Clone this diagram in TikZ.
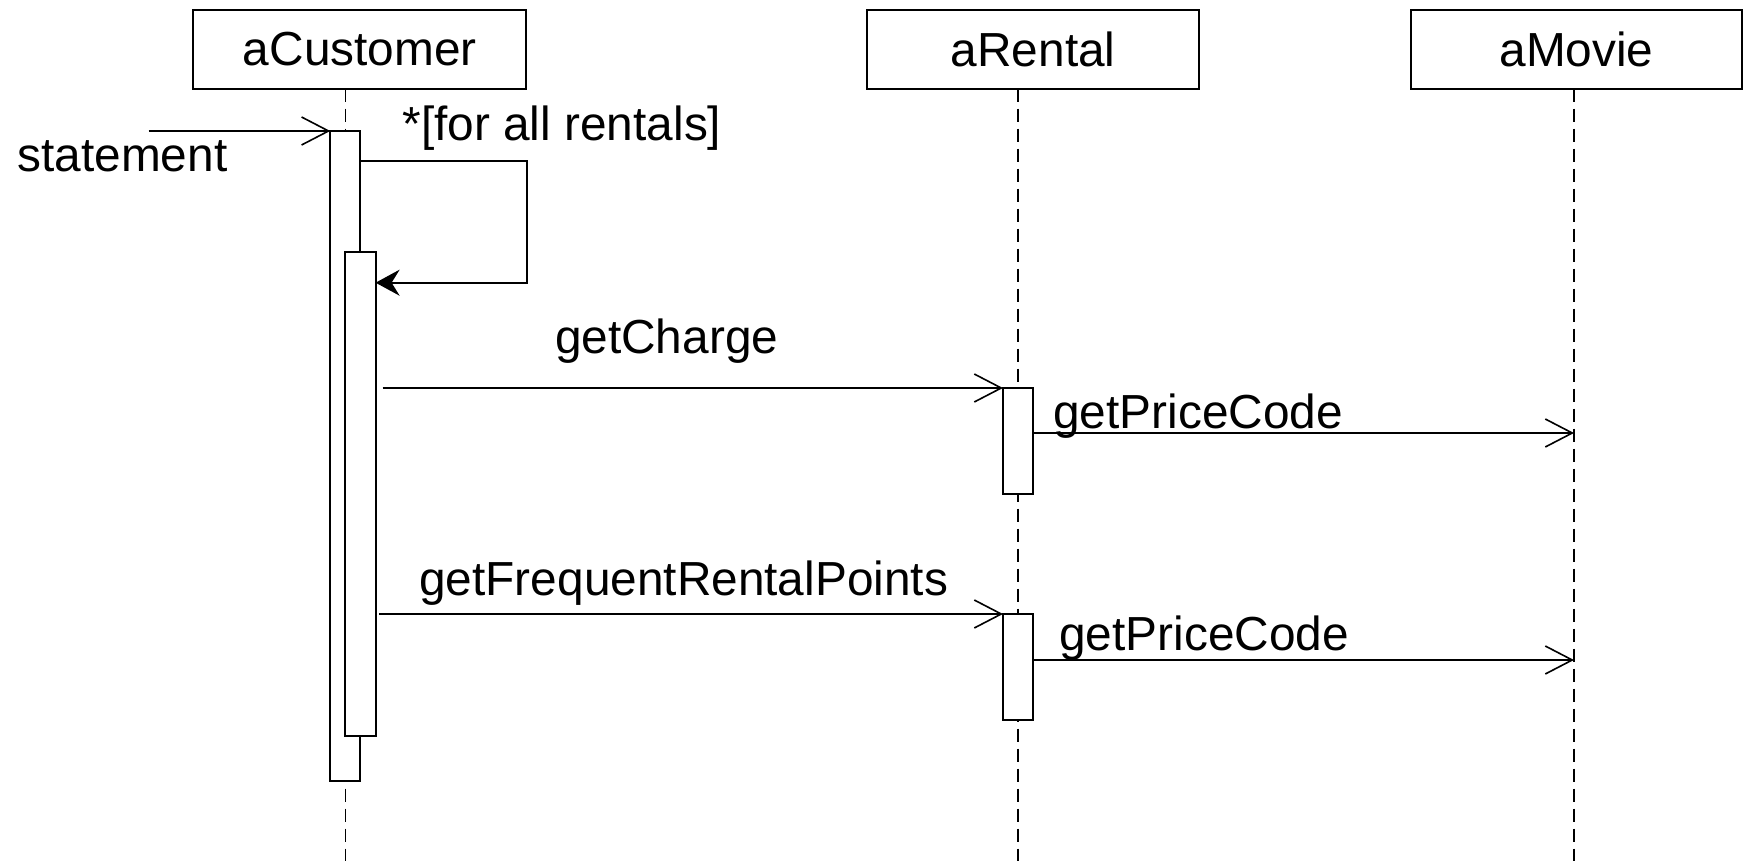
\documentclass[tikz,border=0pt]{standalone}
\usepackage{fontspec}
\setmainfont{Liberation Sans}
\usetikzlibrary{arrows.meta}
\begin{document}
\begin{tikzpicture}[x=0.5pt,y=-0.5pt,
  every node/.style={font=\fontsize{23.9pt}{28pt}\selectfont},
  objbox/.style={draw,line width=1pt,inner sep=0pt,outer sep=0pt,minimum height=39.35pt,minimum width=166.5pt,anchor=north west},
  actbox/.style={draw,fill=white,line width=0.9pt,inner sep=0pt,outer sep=0pt,minimum width=15pt,anchor=north west},
  life/.style={line width=0.8pt,dash pattern=on 6.5pt off 3.5pt},
  msg/.style={line width=1pt,-{Straight Barb[length=13.5pt,width=14pt,line width=0.8pt]}},
  selfmsg/.style={line width=1pt,-{Stealth[length=12pt,width=13pt,inset=4pt]}},
  lbl/.style={anchor=base west,inner sep=0pt,outer sep=0pt}]
\useasboundingbox (0,0) rectangle (1743,861);
% objects
\node[objbox] (cust) at (193.3,10) {aCustomer};
\node[objbox,minimum width=166.2pt] (rent) at (867,10) {aRental};
\node[objbox,minimum width=165.5pt] (movie) at (1411,10) {aMovie};
% lifelines
\coordinate (cl) at (345.5,861);
\coordinate (rl) at (1018,861);
\coordinate (ml) at (1574,861);
\draw[life] (cust.south -| cl) -- (cl);
\draw[life] (rent.south -| rl) -- (rl);
\draw[life] (movie.south -| ml) -- (ml);
% activations
\node[actbox,minimum height=325pt] (outer) at (330.3,131) {};
\node[actbox,minimum width=15.3pt,minimum height=242pt] (inner) at (345,252) {};
\node[actbox,minimum height=52.85pt] (r1) at (1003,388) {};
\node[actbox,minimum height=53pt] (r2) at (1003,614) {};
% messages
\coordinate (st0) at (148.5,131);
\draw[msg] (st0) -- (outer.north west);
\node[lbl] (stl) at (17.5,171.7) {statement};
\coordinate (lpt) at (527,161.5);
\coordinate (lpb) at (527,282.7);
\draw[selfmsg] (outer.east |- lpt) -- (lpt) -- (lpb) -- (inner.east |- lpb);
\node[lbl] (loopl) at (402.5,140.5) {*[for all rentals]};
\coordinate (gc0) at (382.7,388);
\draw[msg] (gc0) -- (r1.north west);
\node[lbl] (gcl) at (555,353) {getCharge};
\coordinate (pc1) at (1574,433);
\draw[msg] (r1.east |- pc1) -- (pc1);
\node[lbl] (pc1l) at (1053.3,428.3) {getPriceCode};
\coordinate (fr0) at (379,614);
\draw[msg] (fr0) -- (r2.north west);
\node[lbl] (frl) at (419.3,595) {getFrequentRentalPoints};
\coordinate (pc2) at (1574,660);
\draw[msg] (r2.east |- pc2) -- (pc2);
\node[lbl] (pc2l) at (1059.3,650) {getPriceCode};
\end{tikzpicture}
\end{document}
